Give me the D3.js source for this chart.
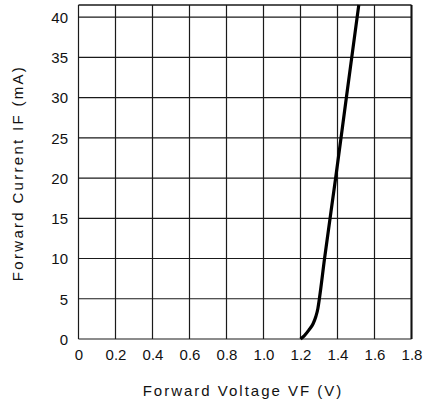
<!DOCTYPE html>
<html>
<head>
<meta charset="utf-8">
<script src="https://cdn.jsdelivr.net/npm/d3@7"></script>
<style>
  html, body { margin: 0; padding: 0; background: #fff; }
  svg { display: block; }
  text { font-family: "Liberation Sans", "DejaVu Sans", sans-serif; fill: #111; }
</style>
</head>
<body>
<script>
// Forward voltage (V) vs forward current (mA) characteristic
const voltage = [1.200, 1.220, 1.245, 1.268, 1.283, 1.294, 1.302, 1.330, 1.390, 1.448, 1.515];
const current = [0.0, 0.4, 1.1, 1.9, 2.8, 3.8, 5.0, 10.0, 20.0, 30.0, 41.5];

const xTicks = [0, 0.2, 0.4, 0.6, 0.8, 1.0, 1.2, 1.4, 1.6, 1.8];
const xTickLabels = ["0", "0.2", "0.4", "0.6", "0.8", "1.0", "1.2", "1.4", "1.6", "1.8"];
const yTicks = [0, 5, 10, 15, 20, 25, 30, 35, 40];
const yTickLabels = ["0", "5", "10", "15", "20", "25", "30", "35", "40"];

const xTitle = "Forward Voltage VF (V)";
const yTitle = "Forward Current IF (mA)";

const W = 424, H = 404;
const plot = { left: 78.5, right: 411.5, top: 5, bottom: 339 };

const svg = d3.select("body").append("svg")
  .attr("width", W).attr("height", H);

const x = d3.scaleLinear().domain([0, 1.8]).range([plot.left, plot.right]);
const y = d3.scaleLinear().domain([0, 41.5]).range([plot.bottom, plot.top]);

// grid: vertical lines at every 0.2 V, horizontal at every 5 mA
const grid = svg.append("g").attr("stroke", "#1a1a1a").attr("stroke-width", 1.2);
grid.selectAll("line.v").data(xTicks).join("line")
  .attr("class", "v")
  .attr("x1", d => x(d)).attr("x2", d => x(d))
  .attr("y1", plot.top).attr("y2", plot.bottom);
grid.selectAll("line.h").data(yTicks).join("line")
  .attr("class", "h")
  .attr("x1", plot.left).attr("x2", plot.right)
  .attr("y1", d => y(d)).attr("y2", d => y(d));

// frame
svg.append("line").attr("x1", plot.left).attr("x2", plot.right)
  .attr("y1", plot.top).attr("y2", plot.top)
  .attr("stroke", "#1a1a1a").attr("stroke-width", 1.3);
svg.append("line").attr("x1", plot.right).attr("x2", plot.right)
  .attr("y1", plot.top).attr("y2", plot.bottom)
  .attr("stroke", "#111").attr("stroke-width", 2);

// axes (labels only, grid serves as ticks)
const xAxis = d3.axisBottom(x).tickValues(xTicks)
  .tickFormat((d, i) => xTickLabels[i]).tickSize(0).tickPadding(0);
const gx = svg.append("g").attr("transform", `translate(0,${plot.bottom})`).call(xAxis);
gx.select(".domain").remove();
gx.selectAll("text").attr("y", 20.5).attr("dy", null)
  .style("font-size", "15px").style("font-family", "'Liberation Sans', sans-serif");

const yAxis = d3.axisLeft(y).tickValues(yTicks)
  .tickFormat((d, i) => yTickLabels[i]).tickSize(0).tickPadding(0);
const gy = svg.append("g").attr("transform", `translate(${plot.left},0)`).call(yAxis);
gy.select(".domain").remove();
gy.selectAll("text").attr("x", -10.5).attr("dy", "0.36em")
  .style("font-size", "15px").style("font-family", "'Liberation Sans', sans-serif");

// characteristic curve
const pts = voltage.map((v, i) => [v, current[i]]);
svg.append("path")
  .datum(pts)
  .attr("fill", "none")
  .attr("stroke", "#000")
  .attr("stroke-width", 3.2)
  .attr("stroke-linejoin", "round")
  .attr("d", d3.line().x(d => x(d[0])).y(d => y(d[1])).curve(d3.curveMonotoneX));

// axis titles
svg.append("text")
  .attr("x", 243).attr("y", 396)
  .attr("text-anchor", "middle")
  .style("font-size", "15px")
  .style("letter-spacing", "2px")
  .text(xTitle);

svg.append("text")
  .attr("transform", "translate(23,173) rotate(-90)")
  .attr("text-anchor", "middle")
  .style("font-size", "15px")
  .style("letter-spacing", "2.3px")
  .text(yTitle);
</script>
</body>
</html>
